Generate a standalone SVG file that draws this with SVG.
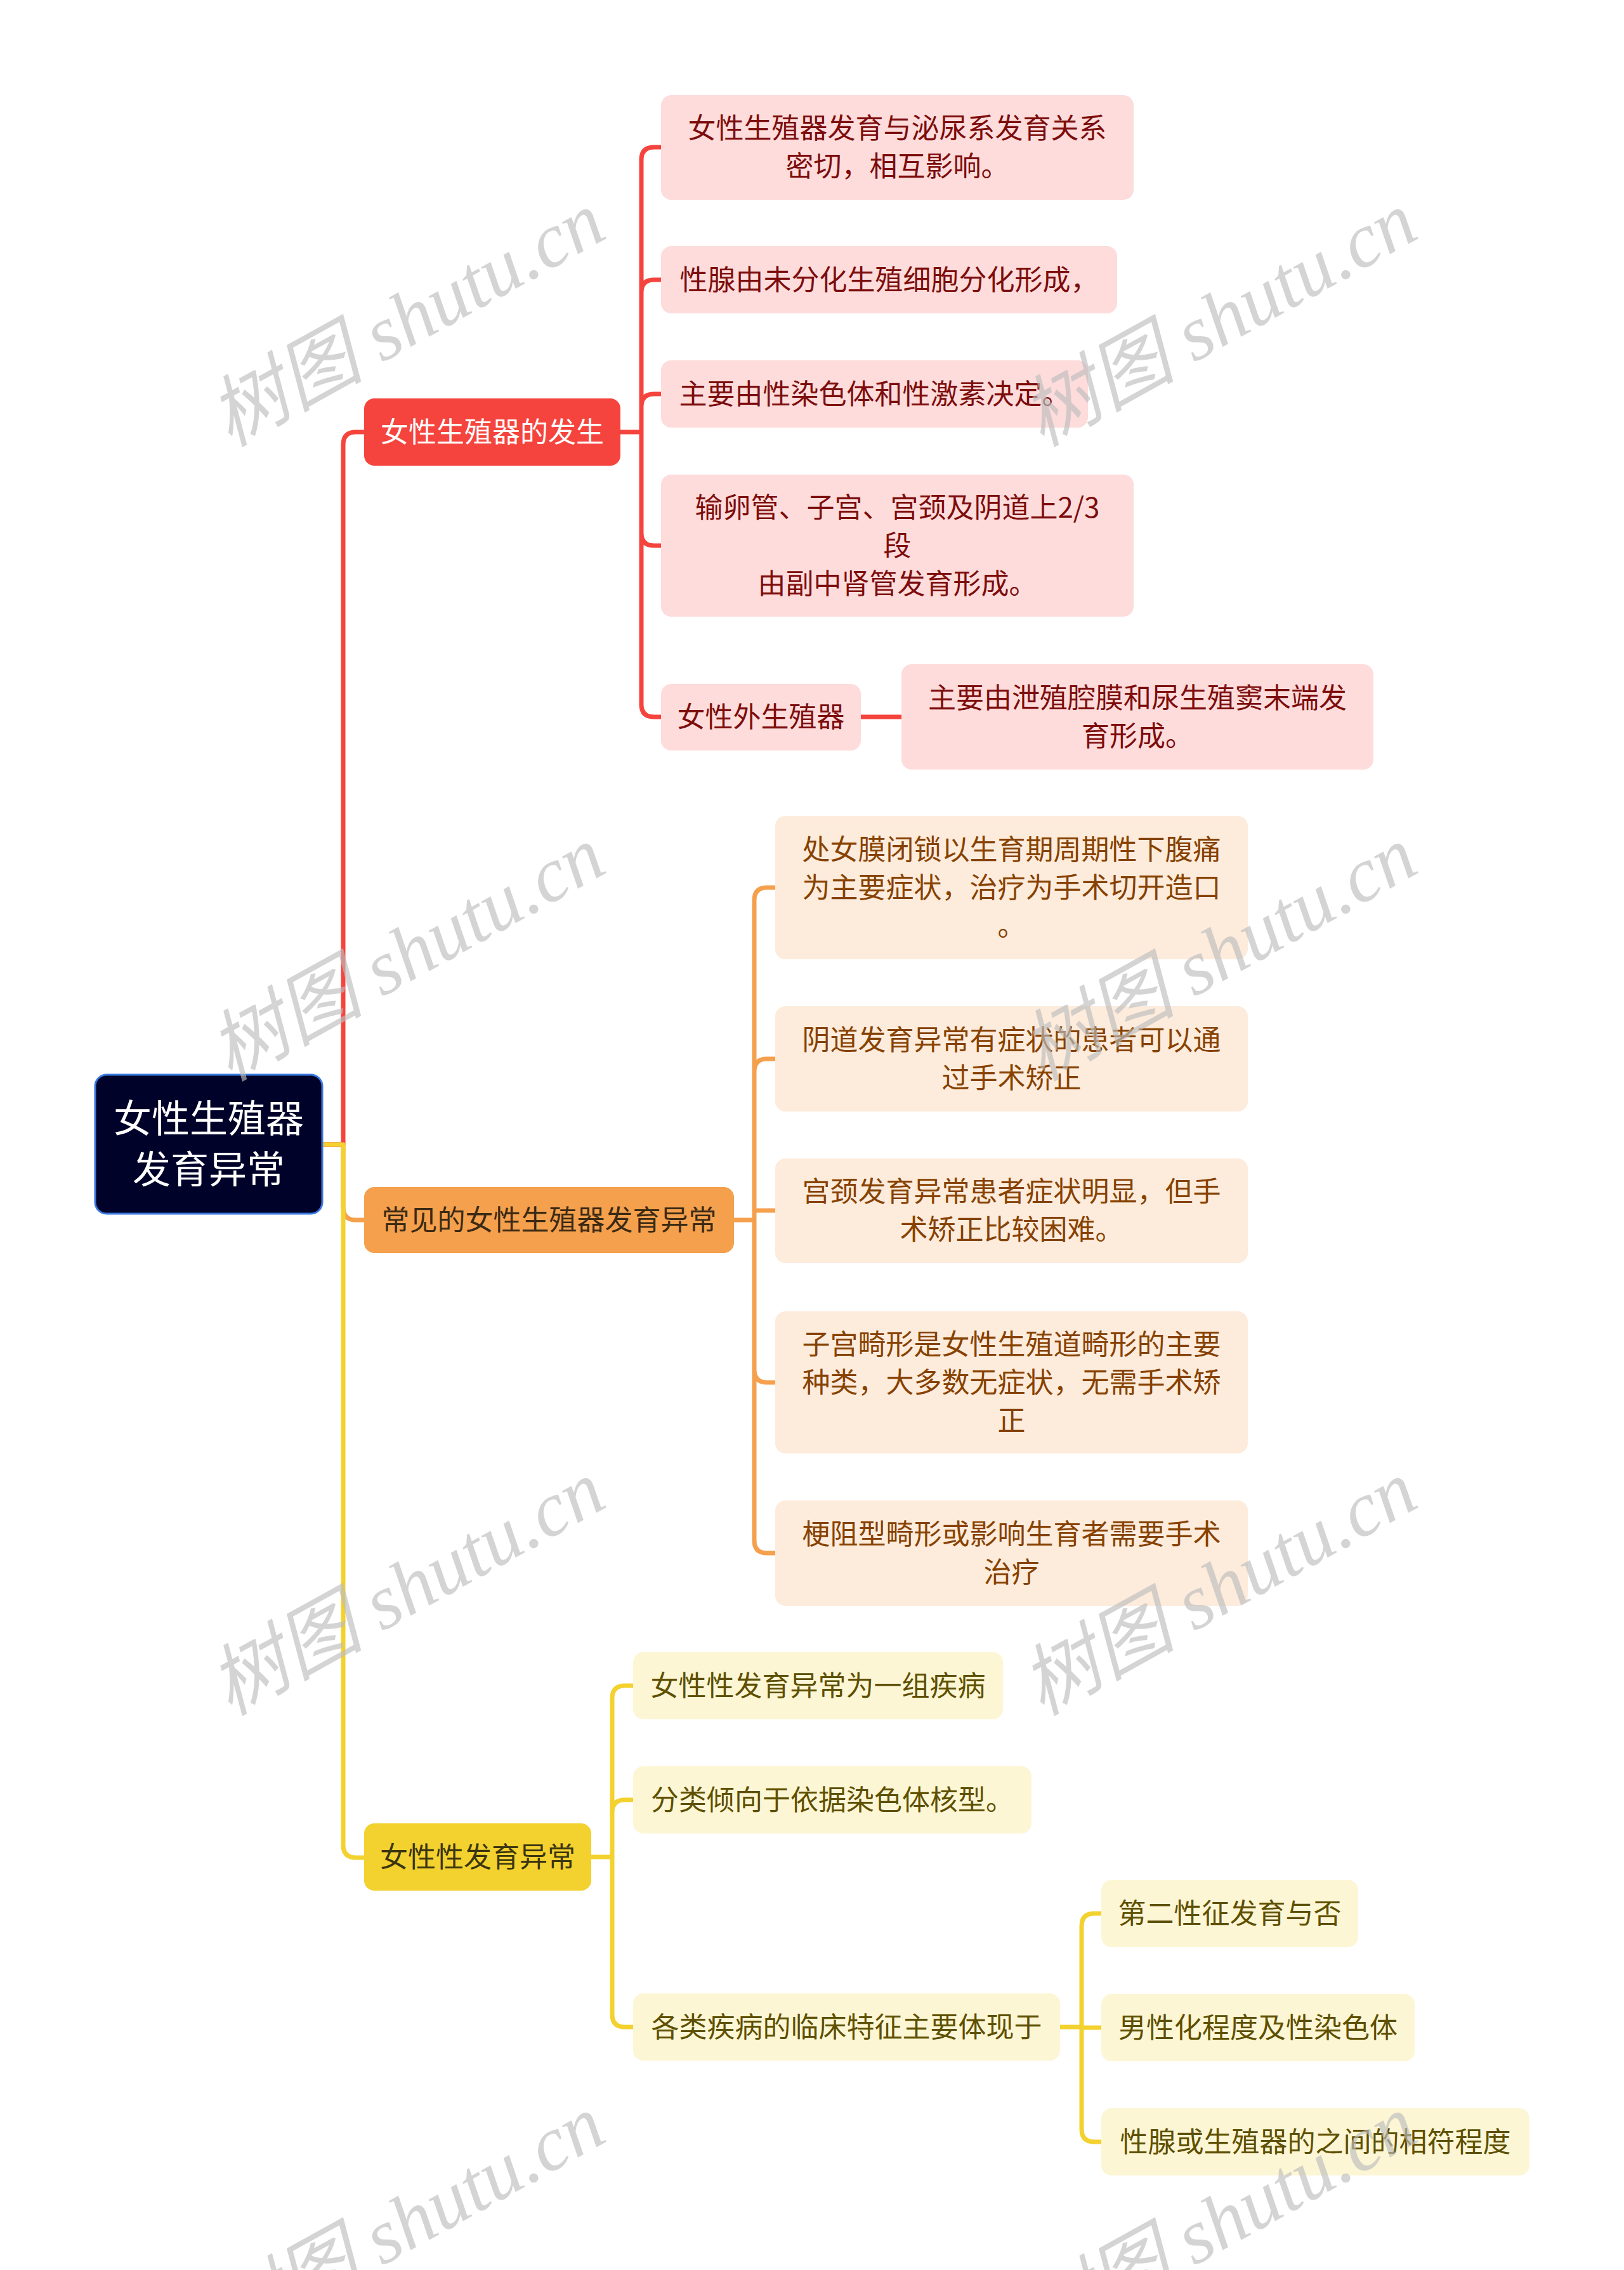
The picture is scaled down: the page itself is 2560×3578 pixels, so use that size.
<svg xmlns="http://www.w3.org/2000/svg" width="2560" height="3578" viewBox="0 0 2560 3578">
<style>
text{font-family:"Noto Sans CJK SC","Noto Sans",sans-serif;font-size:44px;text-anchor:middle}
.root rect{fill:#000229;stroke:#3a78e0;stroke-width:3}
.root text{fill:#ffffff;font-size:60px}
.red rect{fill:#f5443d}
.red text{fill:#ffffff}
.redc rect{fill:#fddcdb}
.redc text{fill:#7d0d0d}
.org rect{fill:#f5a04d}
.org text{fill:#3b2a14}
.orgc rect{fill:#fdebdc}
.orgc text{fill:#874200}
.yel rect{fill:#f3d12e}
.yel text{fill:#3b3510}
.yelc rect{fill:#fdf6d5}
.yelc text{fill:#5e5000}
.ln{fill:none;stroke-width:7;stroke-linejoin:round}
.lr{stroke:#f5443d}
.lo{stroke:#f5a04d}
.ly{stroke:#f3d12e}
.wm text{font-family:"Liberation Serif","Noto Sans CJK SC",serif;font-style:italic;font-size:122px;fill:#bdbdbd;fill-opacity:0.65;text-anchor:start}
</style>
<rect x="0" y="0" width="2560" height="3578" fill="#ffffff"/>
<g id="connectors">
  <path class="ln lo" d="M508,1804 H541 V1903 Q541,1923 561,1923 H574"/>
  <path class="ln lr" d="M508,1804 H541 V701 Q541,681 561,681 H574"/>
  <path class="ln ly" d="M508,1804 H541 V2908 Q541,2928 561,2928 H574"/>
  <path class="ln lr" d="M978,681 H1011 M1011,681 V252 Q1011,232 1031,232 H1042 M1011,681 V461 Q1011,441 1031,441 H1042 M1011,681 V641 Q1011,621 1031,621 H1042 M1011,681 V840 Q1011,860 1031,860 H1042 M1011,681 V1110 Q1011,1130 1031,1130 H1042 M1357,1130 H1421"/>
  <path class="ln lo" d="M1157,1923 H1189 M1189,1923 V1419 Q1189,1399 1209,1399 H1222 M1189,1923 V1689 Q1189,1669 1209,1669 H1222 M1189,1923 V1908 H1222 M1189,1923 V2159 Q1189,2179 1209,2179 H1222 M1189,1923 V2428 Q1189,2448 1209,2448 H1222"/>
  <path class="ln ly" d="M932,2927 H965 M965,2927 V2677 Q965,2657 985,2657 H998 M965,2927 V2857 Q965,2837 985,2837 H998 M965,2927 V3175 Q965,3195 985,3195 H998 M1671,3195 H1705 M1705,3195 V3036 Q1705,3016 1725,3016 H1736 M1705,3195 V3196 H1736 M1705,3195 V3356 Q1705,3376 1725,3376 H1736"/>
</g>
<g id="root" class="root"><rect x="150" y="1694" width="358" height="219" rx="18"/><text x="329" y="1785">女性生殖器</text><text x="329" y="1865">发育异常</text></g>
<g id="n1" class="red"><rect x="574" y="628" width="404" height="106" rx="16"/><text x="776" y="697">女性生殖器的发生</text></g>
<g id="n1c1" class="redc"><rect x="1042" y="150" width="745" height="165" rx="16"/><text x="1414.5" y="218">女性生殖器发育与泌尿系发育关系</text><text x="1414.5" y="278">密切，相互影响。</text></g>
<g id="n1c2" class="redc"><rect x="1042" y="388" width="719" height="106" rx="16"/><text x="1401.5" y="457">性腺由未分化生殖细胞分化形成，</text></g>
<g id="n1c3" class="redc"><rect x="1042" y="568" width="673" height="106" rx="16"/><text x="1378.5" y="637">主要由性染色体和性激素决定。</text></g>
<g id="n1c4" class="redc"><rect x="1042" y="748" width="745" height="224" rx="16"/><text x="1414.5" y="816">输卵管、子宫、宫颈及阴道上2/3</text><text x="1414.5" y="876">段</text><text x="1414.5" y="936">由副中肾管发育形成。</text></g>
<g id="n1c5" class="redc"><rect x="1042" y="1078" width="315" height="105" rx="16"/><text x="1199.5" y="1146">女性外生殖器</text></g>
<g id="n1c5a" class="redc"><rect x="1421" y="1047" width="744" height="166" rx="16"/><text x="1793" y="1116">主要由泄殖腔膜和尿生殖窦末端发</text><text x="1793" y="1176">育形成。</text></g>
<g id="n2" class="org"><rect x="574" y="1871" width="583" height="104" rx="16"/><text x="865.5" y="1939">常见的女性生殖器发育异常</text></g>
<g id="n2c1" class="orgc"><rect x="1222" y="1286" width="745" height="226" rx="16"/><text x="1594.5" y="1355">处女膜闭锁以生育期周期性下腹痛</text><text x="1594.5" y="1415">为主要症状，治疗为手术切开造口</text><text x="1594.5" y="1475">。</text></g>
<g id="n2c2" class="orgc"><rect x="1222" y="1586" width="745" height="166" rx="16"/><text x="1594.5" y="1655">阴道发育异常有症状的患者可以通</text><text x="1594.5" y="1715">过手术矫正</text></g>
<g id="n2c3" class="orgc"><rect x="1222" y="1826" width="745" height="165" rx="16"/><text x="1594.5" y="1894">宫颈发育异常患者症状明显，但手</text><text x="1594.5" y="1954">术矫正比较困难。</text></g>
<g id="n2c4" class="orgc"><rect x="1222" y="2067" width="745" height="224" rx="16"/><text x="1594.5" y="2135">子宫畸形是女性生殖道畸形的主要</text><text x="1594.5" y="2195">种类，大多数无症状，无需手术矫</text><text x="1594.5" y="2255">正</text></g>
<g id="n2c5" class="orgc"><rect x="1222" y="2365" width="745" height="166" rx="16"/><text x="1594.5" y="2434">梗阻型畸形或影响生育者需要手术</text><text x="1594.5" y="2494">治疗</text></g>
<g id="n3" class="yel"><rect x="574" y="2874" width="358" height="106" rx="16"/><text x="753" y="2943">女性性发育异常</text></g>
<g id="n3c1" class="yelc"><rect x="998" y="2604" width="583" height="106" rx="16"/><text x="1289.5" y="2673">女性性发育异常为一组疾病</text></g>
<g id="n3c2" class="yelc"><rect x="998" y="2784" width="628" height="106" rx="16"/><text x="1312" y="2853">分类倾向于依据染色体核型。</text></g>
<g id="n3c3" class="yelc"><rect x="998" y="3142" width="673" height="106" rx="16"/><text x="1334.5" y="3211">各类疾病的临床特征主要体现于</text></g>
<g id="n3c3a" class="yelc"><rect x="1736" y="2963" width="405" height="106" rx="16"/><text x="1938.5" y="3032">第二性征发育与否</text></g>
<g id="n3c3b" class="yelc"><rect x="1736" y="3143" width="494" height="106" rx="16"/><text x="1983" y="3212">男性化程度及性染色体</text></g>
<g id="n3c3c" class="yelc"><rect x="1736" y="3323" width="675" height="106" rx="16"/><text x="2073.5" y="3392">性腺或生殖器的之间的相符程度</text></g>
<g id="watermarks" class="wm">
  <text transform="translate(362,705) rotate(-29)">树图 shutu.cn</text>
  <text transform="translate(1642,705) rotate(-29)">树图 shutu.cn</text>
  <text transform="translate(362,1705) rotate(-29)">树图 shutu.cn</text>
  <text transform="translate(1642,1705) rotate(-29)">树图 shutu.cn</text>
  <text transform="translate(362,2705) rotate(-29)">树图 shutu.cn</text>
  <text transform="translate(1642,2705) rotate(-29)">树图 shutu.cn</text>
  <text transform="translate(362,3705) rotate(-29)">树图 shutu.cn</text>
  <text transform="translate(1642,3705) rotate(-29)">树图 shutu.cn</text>
</g>
</svg>
